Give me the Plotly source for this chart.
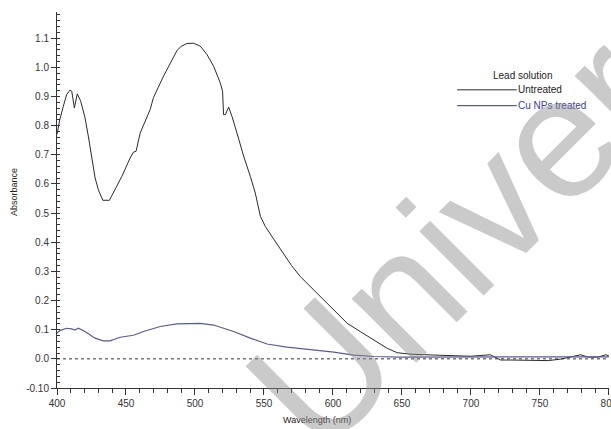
import plotly.graph_objects as go

# ---------------- data ----------------
untreated_wl = [400, 402, 404.6, 407, 409.4, 410.7, 412.6, 414.7, 417.2, 420.3, 422.7, 425.2,
                427.6, 430, 433.2, 438, 440.9, 447, 453, 455.4, 457.3, 460.3, 467.5, 469.9,
                477.2, 487, 490, 494.2, 499, 503.8, 508.7, 513.5, 518.3, 520, 520.7, 522,
                524.4, 526.8, 530.4, 535.3, 540.1, 543.7, 547.4, 551, 560, 570, 576.4, 583.7,
                590.9, 600.6, 610.3, 620, 629.7, 639.4, 646.6, 656.3, 673, 690, 700, 714,
                721.5, 729, 736, 741, 756, 765, 772, 779.5, 785, 792, 797.7, 800]
untreated_abs = [0.77, 0.82, 0.867, 0.907, 0.922, 0.918, 0.861, 0.909, 0.884, 0.827, 0.764, 0.689,
                 0.621, 0.580, 0.544, 0.544, 0.569, 0.626, 0.689, 0.709, 0.712, 0.775, 0.855, 0.896,
                 0.970, 1.058, 1.072, 1.082, 1.083, 1.073, 1.044, 1.004, 0.947, 0.918, 0.838, 0.838,
                 0.864, 0.832, 0.775, 0.695, 0.626, 0.569, 0.489, 0.454, 0.39, 0.32, 0.282, 0.248,
                 0.214, 0.168, 0.122, 0.093, 0.065, 0.036, 0.021, 0.016, 0.013, 0.010, 0.009, 0.014,
                 -0.004, -0.004, -0.004, -0.006, -0.006, -0.001, 0.006, 0.014, 0.006, 0.006, 0.014, 0.010]

treated_wl = [400, 402, 407, 410.6, 413, 415.5, 420.3, 427.6, 433.6, 438.5, 445.7, 455.4,
              462.7, 474.8, 486.9, 495, 503.8, 513.5, 520.7, 523.2, 528, 540.1, 552.2, 566.7,
              581.2, 600.6, 615.1, 629.7, 649, 700, 750, 800]
treated_abs = [0.088, 0.097, 0.105, 0.103, 0.099, 0.105, 0.094, 0.071, 0.062, 0.062, 0.074, 0.081,
               0.094, 0.111, 0.120, 0.122, 0.122, 0.116, 0.105, 0.099, 0.094, 0.071, 0.051, 0.040,
               0.033, 0.023, 0.013, 0.008, 0.006, 0.007, 0.007, 0.007]

x_ticks = [400, 450, 500, 550, 600, 650, 700, 750, 800]
y_ticks = [-0.1, 0.0, 0.1, 0.2, 0.3, 0.4, 0.5, 0.6, 0.7, 0.8, 0.9, 1.0, 1.1]
y_ticktext = ["-0.10", "0.0", "0.1", "0.2", "0.3", "0.4", "0.5", "0.6", "0.7", "0.8", "0.9", "1.0", "1.1"]

legend_title = "Lead solution"
series_names = ["Untreated", "Cu NPs treated"]

# ---------------- style ----------------
FONT = "Arial, Liberation Sans, sans-serif"
BLACK_LINE = "#2a2a2a"
BLUE_LINE = "#5a5a95"
BLUE_TEXT = "#3c3c9c"
AXIS = "#333333"

fig = go.Figure()
fig.add_trace(go.Scatter(x=untreated_wl, y=untreated_abs, mode="lines", name=series_names[0],
                         line=dict(color=BLACK_LINE, width=1), showlegend=False))
fig.add_trace(go.Scatter(x=treated_wl, y=treated_abs, mode="lines", name=series_names[1],
                         line=dict(color=BLUE_LINE, width=1.2), showlegend=False))

# zero reference line
fig.add_shape(type="line", xref="paper", x0=0, x1=1, yref="y", y0=0, y1=0,
              line=dict(color=AXIS, width=1, dash="3px,3px"))

# manual legend
fig.add_annotation(text=legend_title, xref="paper", yref="paper", x=0.844, y=0.832,
                   showarrow=False, xanchor="center", yanchor="middle",
                   font=dict(family=FONT, size=10, color="#222"))
fig.add_shape(type="line", xref="paper", yref="paper", x0=0.725, x1=0.833, y0=0.793, y1=0.793,
              line=dict(color=BLACK_LINE, width=1))
fig.add_annotation(text=series_names[0], xref="paper", yref="paper", x=0.833, y=0.793,
                   showarrow=False, xanchor="left", yanchor="middle", xshift=-1,
                   font=dict(family=FONT, size=10, color="#222"))
fig.add_shape(type="line", xref="paper", yref="paper", x0=0.725, x1=0.833, y0=0.751, y1=0.751,
              line=dict(color=BLUE_LINE, width=1.2))
fig.add_annotation(text=series_names[1], xref="paper", yref="paper", x=0.833, y=0.751,
                   showarrow=False, xanchor="left", yanchor="middle", xshift=-1,
                   font=dict(family=FONT, size=10, color=BLUE_TEXT))

# axis titles
fig.add_annotation(text="Absorbance", xref="paper", yref="paper", x=-0.078, y=0.521,
                   showarrow=False, textangle=-90, xanchor="center", yanchor="middle",
                   font=dict(family=FONT, size=9, color="#222"))
fig.add_annotation(text="Wavelength (nm)", xref="paper", yref="paper", x=0.471, y=-0.085,
                   showarrow=False, xanchor="center", yanchor="middle",
                   font=dict(family=FONT, size=9, color="#222"))

# watermark (semi-transparent so the curves stay visible through it)
fig.add_annotation(text="Univer", xref="paper", yref="paper", x=0.718, y=0.39,
                   showarrow=False, textangle=-45, xanchor="center", yanchor="middle",
                   font=dict(family=FONT, size=172, color="#8c8c8c"), opacity=0.45)

fig.update_layout(
    width=611, height=429, autosize=False,
    margin=dict(l=57, r=2, t=12, b=41, autoexpand=False),
    paper_bgcolor="white", plot_bgcolor="white",
    font=dict(family=FONT, size=10, color=AXIS),
    xaxis=dict(range=[400, 800.05], tickmode="array", tickvals=x_ticks, automargin=False,
               ticks="outside", ticklen=6, tickcolor=AXIS, tickwidth=1,
               ticklabeloverflow="allow",
               minor=dict(tickmode="linear", tick0=400, dtick=10, ticks="outside", ticklen=4,
                          tickcolor=AXIS, showgrid=False),
               showline=True, linecolor=AXIS, linewidth=1, showgrid=False, zeroline=False,
               tickfont=dict(family=FONT, size=10, color="#333")),
    yaxis=dict(range=[-0.1, 1.19], tickmode="array", tickvals=y_ticks, ticktext=y_ticktext,
               automargin=False,
               ticks="outside", ticklen=5, tickcolor=AXIS, tickwidth=1,
               minor=dict(tickmode="linear", tick0=0, dtick=0.02, ticks="inside", ticklen=3,
                          tickcolor=AXIS, showgrid=False),
               showline=True, linecolor=AXIS, linewidth=1, showgrid=False, zeroline=False,
               tickfont=dict(family=FONT, size=10, color="#333")),
)

fig.write_html("out.html")
